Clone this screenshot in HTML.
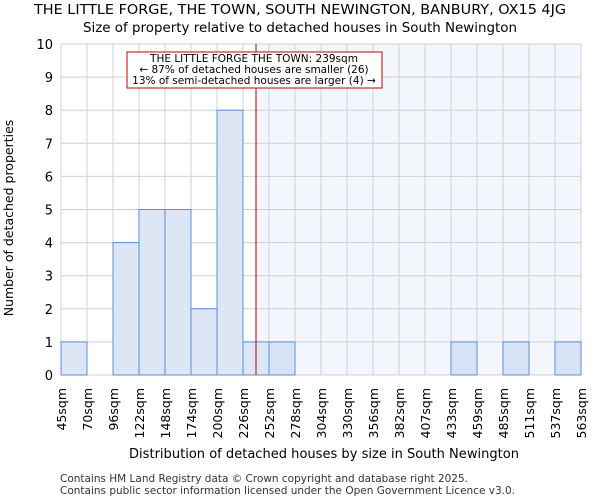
<!DOCTYPE html>
<html><head><meta charset="utf-8"><style>
body{margin:0;background:#fff;font-family:"DejaVu Sans","Liberation Sans",sans-serif;}
</style></head><body>
<svg id="c" width="600" height="500" xmlns="http://www.w3.org/2000/svg" font-family="DejaVu Sans, Liberation Sans, sans-serif">
<text x="300" y="14" text-anchor="middle" font-size="13" textLength="532" lengthAdjust="spacingAndGlyphs">THE LITTLE FORGE, THE TOWN, SOUTH NEWINGTON, BANBURY, OX15 4JG</text>
<text x="300" y="32" text-anchor="middle" font-size="13" textLength="434" lengthAdjust="spacingAndGlyphs">Size of property relative to detached houses in South Newington</text>
<g id="plot"></g>
<text x="324" y="458" text-anchor="middle" font-size="13" textLength="390" lengthAdjust="spacingAndGlyphs">Distribution of detached houses by size in South Newington</text>
<text transform="translate(13,218) rotate(-90)" text-anchor="middle" font-size="12.5">Number of detached properties</text>
<text x="60" y="482" font-size="10.5" fill="#333" textLength="408" lengthAdjust="spacingAndGlyphs">Contains HM Land Registry data © Crown copyright and database right 2025.</text>
<text x="60" y="494" font-size="10.5" fill="#333" textLength="455" lengthAdjust="spacingAndGlyphs">Contains public sector information licensed under the Open Government Licence v3.0.</text>
</svg>
<script>
const categories=["45sqm","70sqm","96sqm","122sqm","148sqm","174sqm","200sqm","226sqm","252sqm","278sqm","304sqm","330sqm","356sqm","382sqm","407sqm","433sqm","459sqm","485sqm","511sqm","537sqm","563sqm"];
const counts=[1,0,4,5,5,2,8,1,1,0,0,0,0,0,0,1,0,1,0,1];
const yTicks=[0,1,2,3,4,5,6,7,8,9,10];
const propertyIndex=7.5;
const NS="http://www.w3.org/2000/svg";
const g=document.getElementById('plot');
const x0=61,bw=26,yb=375,yt=44,ymax=10;
const X=i=>x0+i*bw;
const Y=v=>yb-(v/ymax)*(yb-yt);
function mk(t,a){const e=document.createElementNS(NS,t);for(const k in a)e.setAttribute(k,a[k]);g.appendChild(e);return e;}
const nb=counts.length;
const px=X(propertyIndex);
let e=mk('rect',{x:px,y:yt,width:X(nb)-px,height:yb-yt,fill:'#f3f6fd'});


for(let i=0;i<=nb;i++){e=mk('line',{x1:X(i),x2:X(i),y1:yt,y2:yb,stroke:'#d0d0d0'});

}
yTicks.forEach(v=>{e=mk('line',{x1:x0,x2:X(nb),y1:Y(v),y2:Y(v),stroke:'#d0d0d0'});


const t=mk('text',{x:x0-8,y:Y(v)+5,'text-anchor':'end','font-size':13});t.textContent=v;

});
counts.forEach((c,i)=>{if(!c)return;
const r=mk('rect',{x:X(i),y:Y(c),width:bw,height:yb-Y(c),fill:i>=8?'#d7e2f4':'#dde6f4',stroke:'#5b8fd6','stroke-width':1});

});
categories.forEach((c,i)=>{const t=mk('text',{transform:`translate(${X(i)+5},388) rotate(-90)`,'text-anchor':'end','font-size':12.5});t.textContent=c;

});
e=mk('line',{x1:px,x2:px,y1:yt,y2:yb,stroke:'#b00000','stroke-width':1});


e=mk('rect',{x:127,y:52,width:255,height:36,fill:'#fff',stroke:'#c00000'});


["THE LITTLE FORGE THE TOWN: 239sqm","← 87% of detached houses are smaller (26)","13% of semi-detached houses are larger (4) →"].forEach((s,k)=>{
const t=mk('text',{x:254,y:62+k*11,'text-anchor':'middle','font-size':10.5});t.textContent=s;

});
</script>
</body></html>
